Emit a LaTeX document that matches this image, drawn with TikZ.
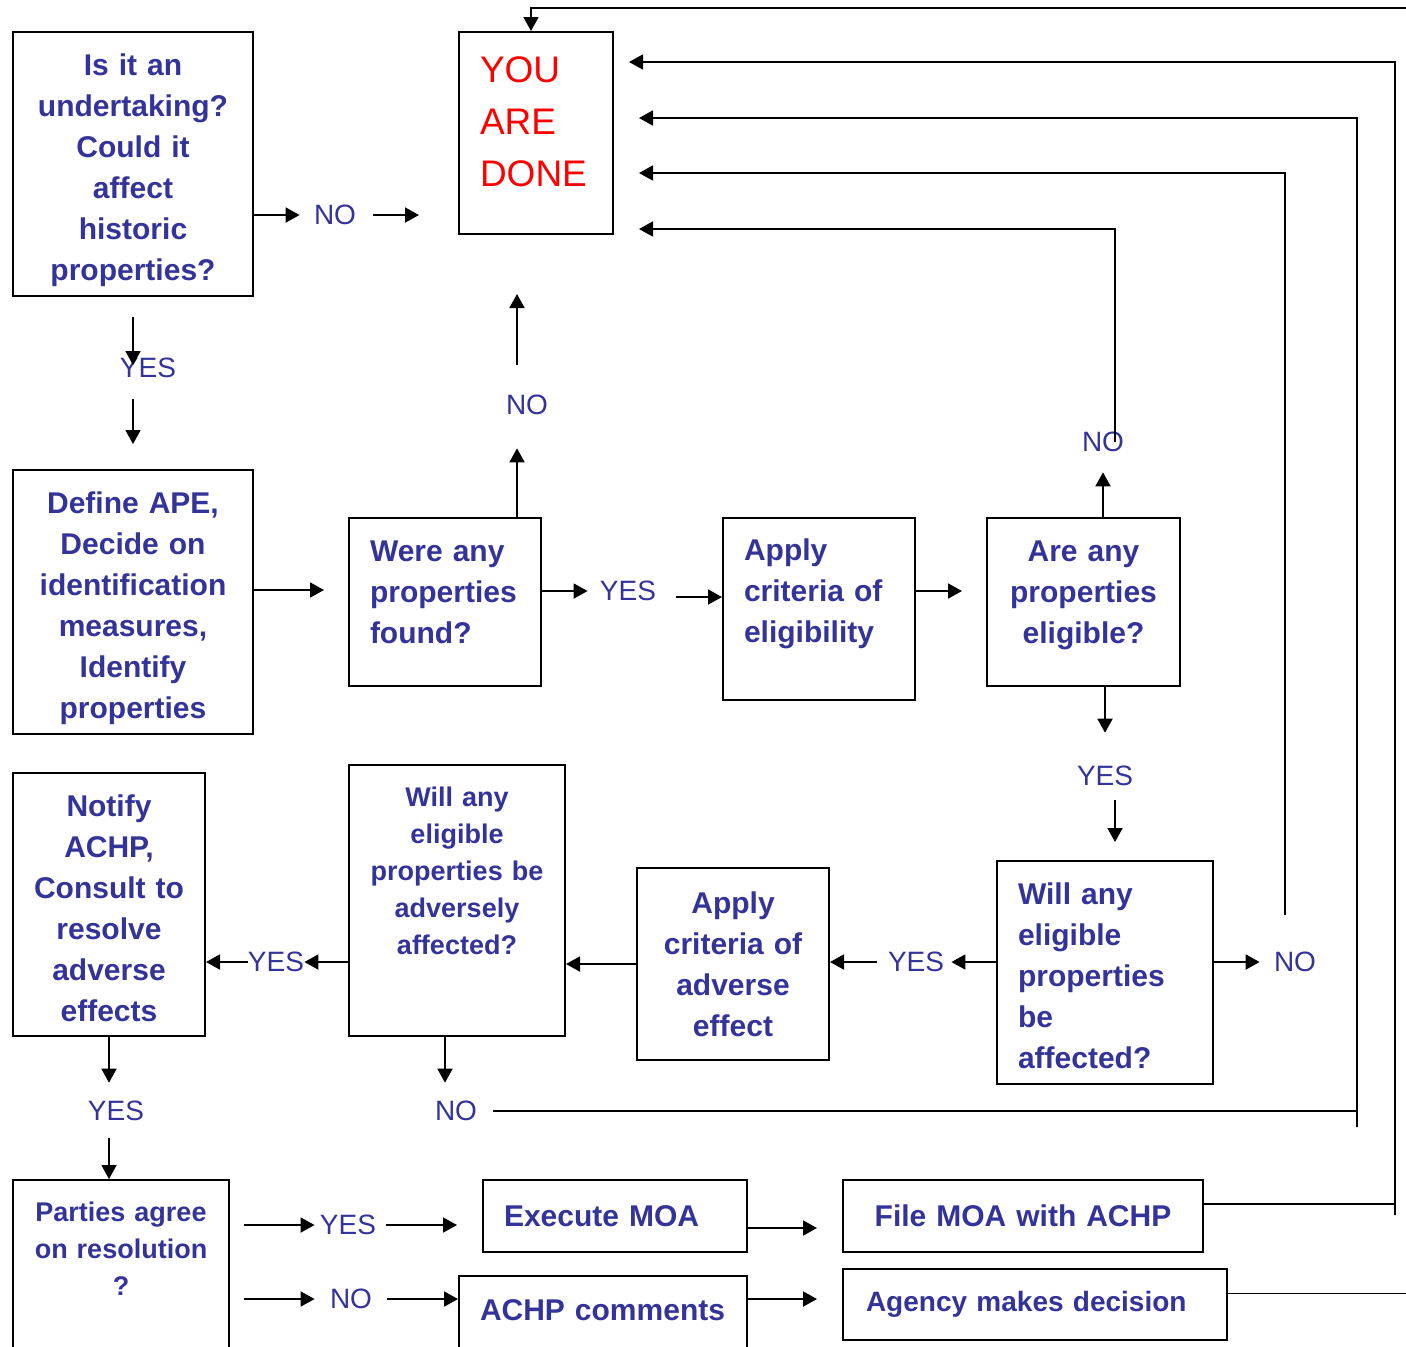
\documentclass[tikz,border=0pt]{standalone}
\usepackage{fontspec}
\setmainfont{Liberation Sans}
\usetikzlibrary{arrows.meta,calc}
\definecolor{ink}{RGB}{51,51,153}
\definecolor{donered}{RGB}{255,0,0}
\newcommand{\lowpad}[1]{\rule[-#1]{0pt}{#1}}
\newcommand{\toppad}[1]{\rule{0pt}{#1}}
\tikzset{
  box/.style={draw, line width=1pt, text=ink, inner xsep=8pt, inner ysep=4pt,
    font=\bfseries\fontsize{15}{20.5}\selectfont},
  smallbox/.style={box, font=\bfseries\fontsize{13.5}{18.5}\selectfont},
  lab/.style={text=ink, inner sep=0pt, font=\fontsize{14}{16}\selectfont},
  arr/.style={-{Triangle[length=7pt,width=7.5pt]}, line width=0.9pt}
}
\begin{document}
\begin{tikzpicture}[x=0.5pt,y=-0.5pt]
\useasboundingbox (0,0) rectangle (1406,1346);
\clip (0,0) rectangle (1406,1346);

% boxes
\node[box, text width=104pt, minimum height=132pt, align=center] (q1) at (133,164) {\toppad{17.5pt}Is it an\\undertaking?\\Could it\\affect\\historic\\properties?};
\node[box, inner xsep=10.5pt, text width=56pt, minimum height=101pt, align=left, text=donered,
  font=\fontsize{18.5}{26}\selectfont] (done) at (536,133) {YOU\\ARE\\DONE\lowpad{11pt}};
\node[box, text width=104pt, minimum height=132pt, align=center] (define) at (133,602) {\toppad{17pt}Define APE,\\Decide on\\identification\\measures,\\Identify\\properties};
\node[box, inner xsep=10.5pt, text width=75pt, minimum height=84pt, align=left] (found) at (445,602) {Were any\\properties\\found?\lowpad{10pt}};
\node[box, inner xsep=10.5pt, text width=75pt, minimum height=91pt, align=left] (elig) at (819,609) {Apply\\criteria of\\eligibility\lowpad{18pt}};
\node[box, text width=80.5pt, minimum height=84pt, align=center] (areany) at (1083.5,602) {Are any\\properties\\eligible?\lowpad{10pt}};
\node[box, inner xsep=10.5pt, text width=87pt, minimum height=111.5pt, align=left] (affected) at (1105,972.5) {\toppad{14pt}Will any\\eligible\\properties\\be\\affected?};
\node[box, text width=80pt, minimum height=96pt, align=center] (adverse) at (733,964) {Apply\\criteria of\\adverse\\effect};
\node[smallbox, text width=92pt, minimum height=135.5pt, align=center] (adversely) at (457,900.5) {Will any\\eligible\\properties be\\adversely\\affected?\lowpad{30pt}};
\node[box, text width=80pt, minimum height=131.5pt, align=center] (notify) at (109,904.5) {\toppad{15pt}Notify\\ACHP,\\Consult to\\resolve\\adverse\\effects};
\node[smallbox, text width=92pt, minimum height=100pt, align=center] (parties) at (121,1280) {Parties agree\\on resolution\\?\lowpad{31pt}};
\node[box, inner xsep=10.5pt, text width=111pt, minimum height=36pt, align=left] (execmoa) at (615,1216) {Execute MOA};
\node[box, inner xsep=10.5pt, text width=123pt, minimum height=52pt, align=left] (achp) at (603,1328) {ACHP comments\lowpad{18pt}};
\node[box, text width=164pt, minimum height=36pt, align=center] (filemoa) at (1023,1216) {File MOA with ACHP};
\node[box, inner xsep=11.5pt, text width=169pt, minimum height=35.5pt, align=left,
  font=\bfseries\fontsize{14}{18}\selectfont] (agency) at (1035,1304.5) {Agency makes decision};

% labels
\node[lab] (no1) at (335,215) {NO};
\node[lab] (yes1) at (148,368) {YES};
\node[lab] (no2) at (527,405) {NO};
\node[lab] (no3) at (1103,442) {NO};
\node[lab] (yes2) at (628,591) {YES};
\node[lab] (yes3) at (1105,776) {YES};
\node[lab] (no4) at (1295,962) {NO};
\node[lab] (yes4) at (916,962) {YES};
\node[lab] (yes5) at (276,962) {YES};
\node[lab] (yes6) at (116,1111) {YES};
\node[lab] (no5) at (456,1111) {NO};
\node[lab] (yes7) at (348,1225) {YES};
\node[lab] (no6) at (351,1299) {NO};

% turning points of the long return lines
\coordinate (bus1) at (1395,1215);
\coordinate (bus2) at (1357,1127);
\coordinate (bus3) at (1285,915);
\coordinate (bus4) at (1115,442);
\coordinate (loop) at (1440,8);

% connectors
\draw[arr, shorten >=7pt] (q1.east |- no1) -- (no1.west);
\draw[arr, shorten <=8.5pt, shorten >=19.5pt] (no1.east) -- (done.west |- no1);
\draw[arr, shorten <=10pt, shorten >=1.5pt] (q1.south) -- (q1.south |- yes1);
\draw[arr, shorten <=10.5pt, shorten >=12.5pt] (q1.south |- yes1.south) -- (define.north);
\draw[arr, shorten >=16.5pt] ($(no2.south |- found.north)+(-10,0)$) -- ($(no2.south)+(-10,0)$);
\draw[arr, shorten <=15pt, shorten >=29.5pt] ($(no2.north)+(-10,0)$) -- ($(no2.north |- done.south)+(-10,0)$);
\draw[arr, shorten >=12pt] ($(define.east)+(0,-12)$) -- ($(found.west)+(0,-12)$);
\draw[arr, shorten >=6pt] (found.east |- yes2) -- (yes2.west);
\draw[arr, shorten <=10pt] ($(yes2.east)+(0,6)$) -- ($(yes2.east -| elig.west)+(0,6)$);
\draw[arr, shorten >=12pt] (elig.east |- yes2) -- (areany.west |- yes2);
\draw[arr, shorten >=10pt] (no3 |- areany.north) -- (no3.south);
\draw[arr, shorten >=12.5pt] (bus4) |- ($(done.north east)+(0,198)$);
\draw[arr, shorten >=16.5pt] (yes3 |- areany.south) -- (yes3.north);
\draw[arr, shorten <=7pt, shorten >=9pt] ($(yes3.south)+(10,0)$) -- ($(yes3.south |- affected.north)+(10,0)$);
\draw[arr, shorten >=7pt] (affected.east |- no4) -- (no4.west);
\draw[arr, shorten >=12.5pt] (bus3) |- ($(done.north east)+(0,142)$);
\draw[arr, shorten >=3.5pt] (affected.west |- yes4) -- (yes4.east);
\draw[arr, shorten <=5.5pt] (yes4.west) -- (adverse.east |- yes4);
\draw[arr] (adverse.west) -- (adversely.east |- adverse);
\draw[arr] (adversely.west |- yes5) -- (yes5.east);
\draw[arr] (yes5.west) -- (notify.east |- yes5);
\draw[arr, shorten >=9pt] (notify.south) -- (notify.south |- yes6.north);
\draw[arr, shorten <=8.5pt] (notify.south |- yes6.south) -- (notify.south |- parties.north);
\draw[arr, shorten >=9pt] ($(adversely.south)+(-12,0)$) -- ($(adversely.south |- no5.north)+(-12,0)$);
\draw[arr, shorten <=8pt, shorten >=12.5pt] (no5.east) -| (bus2) |- ($(done.north east)+(0,87)$);
\draw[arr, shorten <=7pt, shorten >=2.5pt] (parties.east |- yes7) -- (yes7.west);
\draw[arr, shorten <=5pt, shorten >=12.5pt] (yes7.east) -- (execmoa.west |- yes7);
\draw[arr, shorten <=7pt, shorten >=7.5pt] (parties.east |- no6) -- (no6.west);
\draw[arr, shorten <=7.5pt] (no6.east) -- (achp.west |- no6);
\draw[arr, shorten >=12.5pt] ($(execmoa.east)+(0,12)$) -- ($(filemoa.west)+(0,12)$);
\draw[arr, shorten >=12.5pt] (achp.east |- no6) -- (agency.west |- no6);
\draw[arr, shorten >=7.5pt] ($(filemoa.east)+(0,-12)$) -| (bus1) |- ($(done.north east)+(0,31)$);
\draw[arr] ($(agency.east)+(0,-11)$) -| (loop) -| ($(done.north)+(-5,0)$);
\end{tikzpicture}
\end{document}
